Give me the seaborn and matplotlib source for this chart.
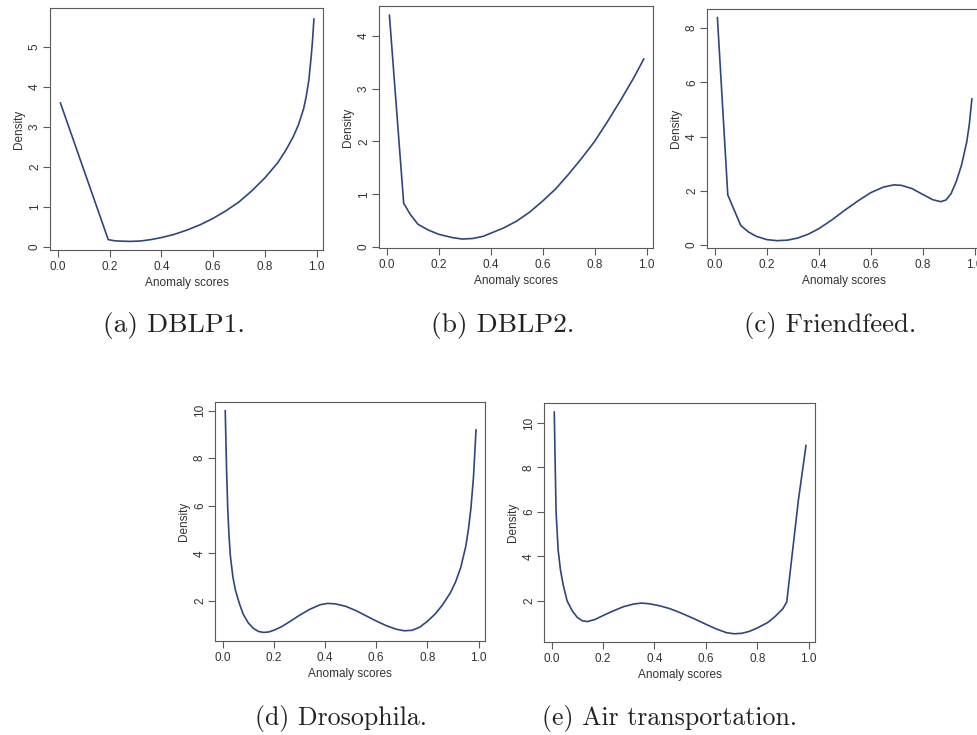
import numpy as np
import pandas as pd
import matplotlib
matplotlib.use("Agg")
import matplotlib.pyplot as plt
import seaborn as sns

# ---- data (anomaly score density curves) ----
dblp1_x = [0.01, 0.195, 0.22, 0.25, 0.28, 0.32, 0.36, 0.40, 0.45, 0.50, 0.55, 0.60, 0.65, 0.70, 0.75,
           0.80, 0.85, 0.88, 0.91, 0.93, 0.95, 0.96, 0.97, 0.98, 0.985, 0.99]
dblp1_y = [3.60, 0.18, 0.15, 0.14, 0.135, 0.145, 0.18, 0.23, 0.31, 0.42, 0.55, 0.71, 0.90, 1.12, 1.40,
           1.72, 2.10, 2.40, 2.75, 3.05, 3.45, 3.75, 4.15, 4.80, 5.20, 5.70]

dblp2_x = [0.01, 0.065, 0.09, 0.12, 0.16, 0.20, 0.25, 0.29, 0.33, 0.37, 0.40, 0.45, 0.50, 0.55,
           0.60, 0.65, 0.70, 0.75, 0.80, 0.85, 0.90, 0.95, 0.99]
dblp2_y = [4.40, 0.83, 0.62, 0.43, 0.32, 0.24, 0.18, 0.15, 0.16, 0.20, 0.26, 0.36, 0.49, 0.66,
           0.87, 1.10, 1.38, 1.68, 2.00, 2.38, 2.78, 3.20, 3.57]

friend_x = [0.01, 0.05, 0.10, 0.13, 0.16, 0.20, 0.24, 0.28, 0.32, 0.36, 0.40, 0.45, 0.50, 0.55,
            0.60, 0.65, 0.69, 0.72, 0.76, 0.80, 0.84, 0.87, 0.89, 0.91, 0.93, 0.95, 0.97, 0.98, 0.99]
friend_y = [8.40, 1.85, 0.72, 0.48, 0.32, 0.20, 0.16, 0.18, 0.26, 0.40, 0.60, 0.92, 1.28, 1.62,
            1.93, 2.14, 2.22, 2.20, 2.08, 1.87, 1.67, 1.60, 1.66, 1.90, 2.35, 2.95, 3.80, 4.45, 5.40]

droso_x = [0.01, 0.015, 0.02, 0.025, 0.03, 0.04, 0.05, 0.065, 0.08, 0.10, 0.12, 0.14, 0.16, 0.18,
           0.20, 0.23, 0.26, 0.30, 0.34, 0.38, 0.41, 0.44, 0.48, 0.52, 0.56, 0.60, 0.64, 0.68,
           0.71, 0.74, 0.77, 0.80, 0.83, 0.86, 0.89, 0.91, 0.93, 0.95, 0.96, 0.97, 0.98, 0.99]
droso_y = [10.0, 7.6, 5.8, 4.7, 3.9, 3.0, 2.45, 1.90, 1.45, 1.08, 0.85, 0.72, 0.68, 0.70,
           0.77, 0.92, 1.12, 1.40, 1.65, 1.84, 1.90, 1.88, 1.78, 1.60, 1.38, 1.16, 0.96, 0.81,
           0.75, 0.77, 0.90, 1.15, 1.45, 1.85, 2.35, 2.80, 3.40, 4.30, 5.00, 5.90, 7.20, 9.20]

air_x = [0.01, 0.013, 0.017, 0.025, 0.034, 0.045, 0.06, 0.08, 0.10, 0.12, 0.14, 0.17, 0.20, 0.24,
         0.28, 0.32, 0.35, 0.38, 0.42, 0.46, 0.50, 0.55, 0.60, 0.64, 0.68, 0.71, 0.74, 0.77,
         0.80, 0.84, 0.87, 0.90, 0.915, 0.96, 0.99]
air_y = [10.5, 8.5, 6.0, 4.3, 3.4, 2.7, 2.0, 1.55, 1.25, 1.10, 1.07, 1.17, 1.34, 1.55,
         1.74, 1.86, 1.90, 1.87, 1.78, 1.65, 1.47, 1.22, 0.95, 0.74, 0.57, 0.52, 0.54, 0.63,
         0.78, 1.02, 1.30, 1.65, 1.95, 6.50, 9.00]

captions = ["(a) DBLP1.", "(b) DBLP2.", "(c) Friendfeed.", "(d) Drosophila.", "(e) Air transportation."]
x_ticks = [0.0, 0.2, 0.4, 0.6, 0.8, 1.0]
x_ticklabels = ["0.0", "0.2", "0.4", "0.6", "0.8", "1.0"]
y_ticks_a = [0, 1, 2, 3, 4, 5]
y_ticks_b = [0, 1, 2, 3, 4]
y_ticks_c = [0, 2, 4, 6, 8]
y_ticks_d = [2, 4, 6, 8, 10]
y_ticks_e = [2, 4, 6, 8, 10]

xs = [dblp1_x, dblp2_x, friend_x, droso_x, air_x]
ys = [dblp1_y, dblp2_y, friend_y, droso_y, air_y]
yticks = [y_ticks_a, y_ticks_b, y_ticks_c, y_ticks_d, y_ticks_e]

sns.set_style("white")
plt.rcParams["font.family"] = ["Liberation Sans", "DejaVu Sans"]

W, H = 977, 735
fig = plt.figure(figsize=(W / 100, H / 100), dpi=100)

# panel boxes in pixels: left, right, top, bottom
boxes = [(50, 323, 8, 250), (379, 653, 6, 248), (707, 981, 9, 248),
         (215, 485, 402, 641), (544, 815, 403, 642)]
ylims = [(-0.08, 5.97), (-0.02, 4.57), (-0.11, 8.71), (0.32, 10.36), (0.15, 10.9)]
cap_pos = [(174, 325), (503, 325), (830, 325), (341, 718), (669, 718)]
cap_size = [19.8, 19.8, 19.2, 18.6, 18.6]

line_color = "#2e4680"
frame_color = "#5a5a5a"

for i in range(5):
    l, r, t, b = boxes[i]
    ax = fig.add_axes([l / W, 1 - b / H, (r - l) / W, (b - t) / H])
    df = pd.DataFrame({"score": xs[i], "density": ys[i]})
    sns.lineplot(data=df, x="score", y="density", ax=ax, color=line_color,
                 linewidth=1.2, sort=True)
    ax.set_xlim(-0.03, 1.025)
    ax.set_ylim(*ylims[i])
    ax.set_xticks(x_ticks)
    ax.set_xticklabels(x_ticklabels)
    ax.set_yticks(yticks[i])
    ax.set_yticklabels([str(v) for v in yticks[i]], rotation=90, va="center")
    ax.set_xlabel("Anomaly scores", fontsize=8.5, color="#333333", labelpad=3)
    ax.set_ylabel("Density", fontsize=8.5, color="#333333", labelpad=3)
    ax.tick_params(axis="both", direction="out", length=5, width=0.8,
                   color=frame_color, labelsize=8.5, labelcolor="#333333",
                   bottom=True, left=True)
    ax.tick_params(axis="y", pad=1.5)
    ax.tick_params(axis="x", pad=3)
    for s in ax.spines.values():
        s.set_visible(True)
        s.set_color(frame_color)
        s.set_linewidth(0.8)
    cx, cy = cap_pos[i]
    fig.text(cx / W, 1 - cy / H, captions[i], ha="center", va="center",
             fontsize=cap_size[i], family=["cmr10", "DejaVu Serif"], color="#222222")

fig.savefig("out.png", dpi=100, facecolor="white")
